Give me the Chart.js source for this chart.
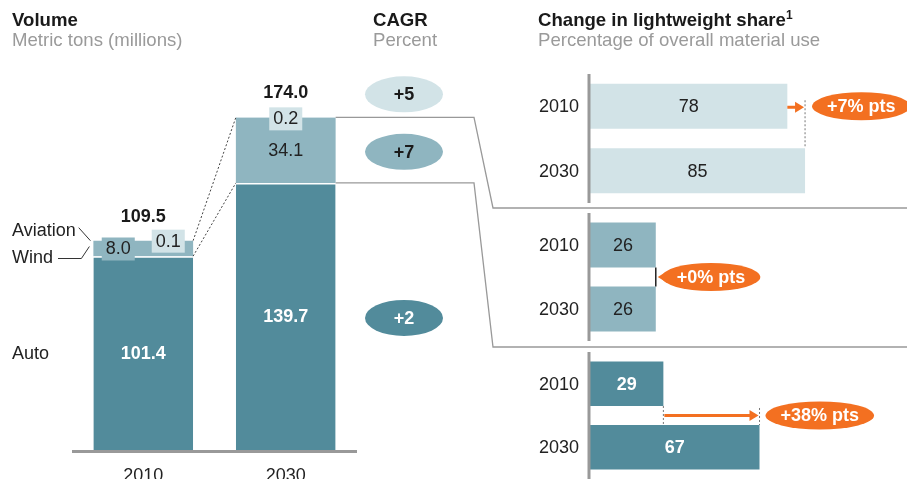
<!DOCTYPE html>
<html>
<head>
<meta charset="utf-8">
<script src="https://cdn.jsdelivr.net/npm/chart.js@4.4.1/dist/chart.umd.min.js"></script>
<style>
body{margin:0;background:#fff;font-family:'Liberation Sans',Arial,sans-serif;}
#wrap{position:relative;width:907px;height:479px;overflow:hidden;}
canvas{position:absolute;}
.hd{position:absolute;font-size:18.6px;line-height:18px;white-space:nowrap;color:#1a1a1a;font-weight:bold;}
.sub{position:absolute;font-size:18.6px;line-height:18px;white-space:nowrap;color:#9a9a9a;}
.hd sup{font-size:12px;vertical-align:7px;line-height:0;}
</style>
</head>
<body>
<div id="wrap">
<canvas id="left" width="907" height="479" style="left:0;top:0"></canvas>
<canvas id="p1" width="387" height="129" style="left:520px;top:74px"></canvas>
<canvas id="p2" width="387" height="128" style="left:520px;top:213px"></canvas>
<canvas id="p3" width="387" height="127" style="left:520px;top:352px"></canvas>
<div class="hd" style="left:12px;top:11px">Volume</div>
<div class="sub" style="left:12px;top:31px">Metric tons (millions)</div>
<div class="hd" style="left:373px;top:11px">CAGR</div>
<div class="sub" style="left:373px;top:31px">Percent</div>
<div class="hd" style="left:538px;top:11px">Change in lightweight share<sup>1</sup></div>
<div class="sub" style="left:538px;top:31px">Percentage of overall material use</div>
</div>
<script>
// volume, million metric tons
var years = ['2010', '2030'];
var auto = [101.4, 139.7];
var wind = [8.0, 34.1];
var aviation = [0.1, 0.2];
var totals = [109.5, 174.0];
// CAGR, percent (aviation, wind, auto)
var cagr = ['+5', '+7', '+2'];
// lightweight share, percent
var shareYears = ['2010', '2030'];
var shareAviation = [78, 85];
var shareWind = [26, 26];
var shareAuto = [29, 67];
var shareChange = ['+7% pts', '+0% pts', '+38% pts'];

var cAuto = '#528b9b';
var cWind = '#8fb5c0';
var cAviation = '#d2e3e7';
var cOrange = '#f37021';
var FONT = "'Liberation Sans', Arial, sans-serif";

function txt(ctx, s, x, y, size, color, bold, align) {
  ctx.font = (bold ? 'bold ' : '') + size + 'px ' + FONT;
  ctx.fillStyle = color;
  ctx.textAlign = align || 'center';
  ctx.textBaseline = 'middle';
  ctx.fillText(s, x, y);
}

function poly(ctx, pts) {
  ctx.beginPath();
  ctx.moveTo(pts[0][0], pts[0][1]);
  for (var i = 1; i < pts.length; i++) ctx.lineTo(pts[i][0], pts[i][1]);
  ctx.stroke();
}

function ellipse(ctx, cx, cy, rx, ry, color) {
  ctx.beginPath();
  ctx.ellipse(cx, cy, rx, ry, 0, 0, Math.PI * 2);
  ctx.fillStyle = color;
  ctx.fill();
}

function box(ctx, s, x, y, bg) {
  ctx.font = '18px ' + FONT;
  var w = ctx.measureText(s).width + 8;
  ctx.fillStyle = bg;
  ctx.fillRect(x - w / 2, y - 11, w, 23);
  txt(ctx, s, x, y + 1, 18, '#222', false);
}

var leftPlugin = {
  id: 'leftAnn',
  afterDatasetsDraw: function(chart) {
    var ctx = chart.ctx;
    var a = chart.getDatasetMeta(0).data;
    var w = chart.getDatasetMeta(1).data;
    var v = chart.getDatasetMeta(2).data;
    var area = chart.chartArea;
    var base = chart.scales.y.getPixelForValue(0);
    var hw = a[0].width / 2;
    ctx.save();

    ctx.strokeStyle = '#999';
    ctx.lineWidth = 3;
    poly(ctx, [[area.left, base + 1.5], [area.right, base + 1.5]]);

    for (var i = 0; i < 2; i++) {
      txt(ctx, years[i], a[i].x, base + 26, 18, '#222', false);
      txt(ctx, auto[i].toFixed(1), a[i].x, (a[i].y + a[i].base) / 2 + 1, 18, '#fff', true);
      txt(ctx, totals[i].toFixed(1), a[i].x, v[i].y - 24, 18, '#1a1a1a', true);
    }
    // 2010 small segments
    box(ctx, wind[0].toFixed(1), a[0].x - 25, (w[0].y + w[0].base) / 2, cWind);
    box(ctx, aviation[0].toFixed(1), a[0].x + 25, v[0].y, cAviation);
    // 2030
    txt(ctx, wind[1].toFixed(1), a[1].x, (w[1].y + w[1].base) / 2 + 1, 18, '#222', false);
    box(ctx, aviation[1].toFixed(1), a[1].x, v[1].y + 1, cAviation);

    // series labels
    ctx.font = '18px ' + FONT;
    var yAv = v[0].y - 10, yWi = (w[0].y + w[0].base) / 2 + 10, yAu = (a[0].y + a[0].base) / 2 + 1;
    txt(ctx, 'Aviation', 12, yAv, 18, '#222', false, 'left');
    txt(ctx, 'Wind', 12, yWi, 18, '#222', false, 'left');
    txt(ctx, 'Auto', 12, yAu, 18, '#222', false, 'left');
    var xl = a[0].x - hw;
    ctx.strokeStyle = '#333';
    ctx.lineWidth = 1;
    var wAv = ctx.measureText('Aviation').width;
    var wWi = ctx.measureText('Wind').width;
    poly(ctx, [[12 + wAv + 3, yAv - 3], [xl - 3, v[0].y]]);
    poly(ctx, [[12 + wWi + 5, yWi], [xl - 12, yWi], [xl - 4, (w[0].y + w[0].base) / 2 - 2]]);

    // dotted links between the two bars
    ctx.strokeStyle = '#444';
    ctx.setLineDash([2, 2]);
    poly(ctx, [[a[0].x + hw, v[0].y], [a[1].x - hw, v[1].y]]);
    poly(ctx, [[a[0].x + hw, a[0].y], [a[1].x - hw, a[1].y]]);
    ctx.setLineDash([]);

    // connectors to the share panels
    ctx.strokeStyle = '#999';
    ctx.lineWidth = 1.3;
    poly(ctx, [[a[1].x + hw, v[1].y], [474, v[1].y], [493, 208], [907, 208]]);
    poly(ctx, [[a[1].x + hw, a[1].y], [474, a[1].y], [493, 347], [907, 347]]);

    // CAGR bubbles
    var cx = 404;
    var ys = [v[1].y - 23, (w[1].y + w[1].base) / 2 + 1.5, (a[1].y + a[1].base) / 2 + 1.5];
    var cols = [cAviation, cWind, cAuto];
    var tcols = ['#1a1a1a', '#1a1a1a', '#fff'];
    for (var k = 0; k < 3; k++) {
      ellipse(ctx, cx, ys[k], 39, 18, cols[k]);
      txt(ctx, cagr[k], cx, ys[k] + 1, 18, tcols[k], true);
    }
    ctx.restore();
  }
};

new Chart(document.getElementById('left'), {
  type: 'bar',
  data: {
    labels: years,
    datasets: [
      {label: 'Auto', data: auto, backgroundColor: cAuto, borderColor: '#fff', borderWidth: {top: 1.5, left: 0, right: 0, bottom: 0}, borderSkipped: false, barPercentage: 0.7, categoryPercentage: 1},
      {label: 'Wind', data: wind, backgroundColor: cWind, barPercentage: 0.7, categoryPercentage: 1},
      {label: 'Aviation', data: aviation, backgroundColor: cAviation, barPercentage: 0.7, categoryPercentage: 1}
    ]
  },
  options: {
    responsive: false,
    animation: false,
    layout: {padding: {left: 72, right: 550, top: 60, bottom: 29}},
    plugins: {legend: {display: false}, tooltip: {enabled: false}},
    scales: {
      x: {display: false, stacked: true},
      y: {display: false, stacked: true, min: 0, max: 204}
    }
  },
  plugins: [leftPlugin]
});

function arrow(ctx, xa, xb, y) {
  ctx.strokeStyle = cOrange;
  ctx.fillStyle = cOrange;
  ctx.lineWidth = 3;
  poly(ctx, [[xa, y], [xb - 8, y]]);
  ctx.beginPath();
  ctx.moveTo(xb, y);
  ctx.lineTo(xb - 9, y - 5.5);
  ctx.lineTo(xb - 9, y + 5.5);
  ctx.closePath();
  ctx.fill();
}

function dashV(ctx, x, y1, y2) {
  ctx.strokeStyle = '#777';
  ctx.lineWidth = 1;
  ctx.setLineDash([2, 2]);
  poly(ctx, [[x, y1], [x, y2]]);
  ctx.setLineDash([]);
}

function makePanel(id, vals, color, textColor, bold, change, mode) {
  return new Chart(document.getElementById(id), {
    type: 'bar',
    data: {labels: shareYears, datasets: [{data: vals, backgroundColor: color, barPercentage: 0.7, categoryPercentage: 1}]},
    options: {
      indexAxis: 'y',
      responsive: false,
      animation: false,
      layout: {padding: {left: 70, right: 64, top: 0, bottom: 0}},
      plugins: {legend: {display: false}, tooltip: {enabled: false}},
      scales: {x: {display: false, min: 0, max: 100}, y: {display: false}}
    },
    plugins: [{
      id: 'share',
      afterDatasetsDraw: function(chart) {
        var ctx = chart.ctx;
        var bars = chart.getDatasetMeta(0).data;
        var xs = chart.scales.x;
        var area = chart.chartArea;
        var x0 = xs.getPixelForValue(0);
        ctx.save();
        ctx.strokeStyle = '#999';
        ctx.lineWidth = 3;
        poly(ctx, [[x0 - 1, area.top], [x0 - 1, area.bottom]]);
        bars.forEach(function(b, i) {
          txt(ctx, shareYears[i], x0 - 11, b.y + 1, 18, '#222', false, 'right');
          txt(ctx, String(vals[i]), (b.x + b.base) / 2, b.y + 1, 18, textColor, bold);
        });
        var b0 = bars[0], b1 = bars[1];
        var gTop = b0.y + b0.height / 2, gBot = b1.y - b1.height / 2, gMid = (gTop + gBot) / 2;
        var x1 = xs.getPixelForValue(vals[0]), x2 = xs.getPixelForValue(vals[1]);
        ctx.font = 'bold 18px ' + FONT;
        var rx = ctx.measureText(change).width / 2 + 15;
        var ey, ex;
        if (mode === 'top') {
          dashV(ctx, x2, b0.y - 6, gBot);
          arrow(ctx, x1, x2 - 1, b0.y + 1);
          ey = b0.y; ex = x2 + 7 + rx;
        } else if (mode === 'tick') {
          ctx.strokeStyle = '#222';
          ctx.lineWidth = 1.5;
          poly(ctx, [[x1, gTop], [x1, gBot]]);
          ey = gMid; ex = x1 + 6 + rx;
          ctx.fillStyle = cOrange;
          ctx.beginPath();
          ctx.moveTo(x1 + 2, ey);
          ctx.lineTo(x1 + 10, ey - 5);
          ctx.lineTo(x1 + 10, ey + 5);
          ctx.fill();
        } else {
          dashV(ctx, x1, gTop, gBot);
          dashV(ctx, x2, gTop + 2, gBot);
          arrow(ctx, x1 + 1, x2 - 1, gMid);
          ey = gMid; ex = x2 + 6 + rx;
        }
        ellipse(ctx, ex, ey, rx, 14, cOrange);
        txt(ctx, change, ex, ey + 1, 18, '#fff', true);
        ctx.restore();
      }
    }]
  });
}

makePanel('p1', shareAviation, cAviation, '#222', false, shareChange[0], 'top');
makePanel('p2', shareWind, cWind, '#222', false, shareChange[1], 'tick');
makePanel('p3', shareAuto, cAuto, '#fff', true, shareChange[2], 'span');
</script>
</body>
</html>
